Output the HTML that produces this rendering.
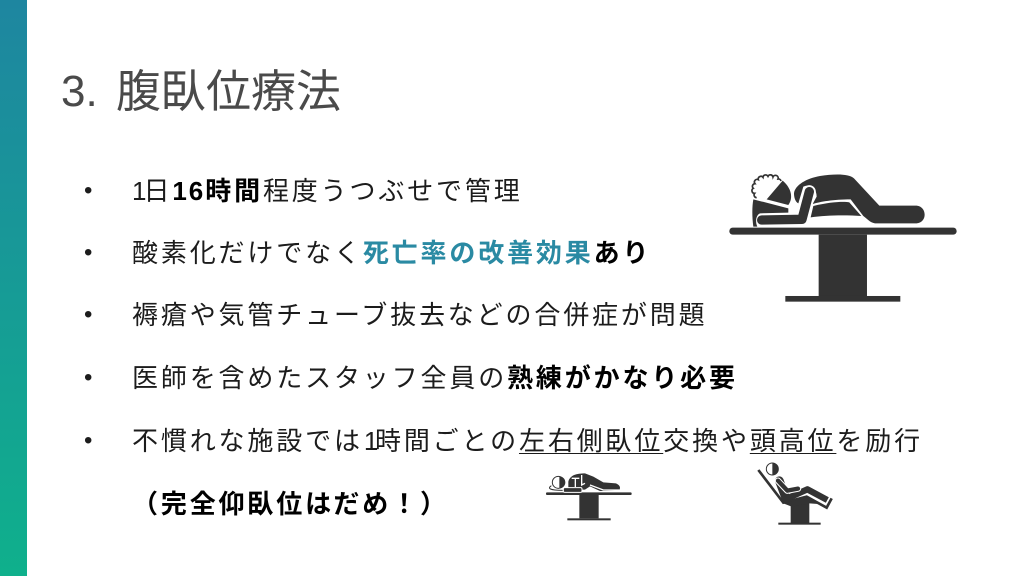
<!DOCTYPE html>
<html lang="ja"><head><meta charset="utf-8"><style>
html,body{margin:0;padding:0;background:#fff}
#p{position:relative;width:1024px;height:576px;overflow:hidden;background:#fff;font-family:"Liberation Sans","Noto Sans CJK JP",sans-serif;color:#1c1c1c}
#bar{position:absolute;left:0;top:0;width:27px;height:576px;background:linear-gradient(180deg,#1e86a0,#0fb08c)}
.t{position:absolute;left:132px;white-space:nowrap;font-size:26px;line-height:30px;letter-spacing:2.85px}
.b{position:absolute;left:84px;width:8px;font-size:24px;line-height:30px;letter-spacing:0}
b{font-weight:700;color:#000}
b.c{color:#2a8aa3}
u{text-underline-offset:3px;text-decoration-thickness:1px}
.n1{letter-spacing:-3px}
.n2{letter-spacing:2px}
.n3{letter-spacing:-3.3px;padding-left:1px}
#h{position:absolute;left:61px;top:63px;font-size:44px;line-height:58px;color:#4a4a4a;white-space:nowrap}
#h span{position:absolute;left:55px;top:0;font-size:45px}
svg{position:absolute;left:0;top:0}
</style></head><body><div id="p">
<div id="bar"></div>
<div id="h">3.<span>腹臥位療法</span></div>
<div class="b" style="top:176px">•</div><div class="t" style="top:176px"><span class="n1">1</span>日<b><span class="n2">16</span>時間</b>程度うつぶせで管理</div>
<div class="b" style="top:238px">•</div><div class="t" style="top:238px">酸素化だけでなく<b class="c">死亡率の改善効果</b><b>あり</b></div>
<div class="b" style="top:300px">•</div><div class="t" style="top:300px">褥瘡や気管チューブ抜去などの合併症が問題</div>
<div class="b" style="top:363px">•</div><div class="t" style="top:363px">医師を含めたスタッフ全員の<b>熟練がかなり必要</b></div>
<div class="b" style="top:426px">•</div><div class="t" style="top:426px">不慣れな施設では<span class="n3">1</span>時間ごとの<u>左右側臥位</u>交換や<u>頭高位</u>を励行</div>
<div class="t" style="top:489px"><b>（完全仰臥位はだめ！）</b></div>
<svg width="1024" height="576" viewBox="0 0 1024 576">
<g transform="translate(720,160) scale(.3333)" fill="#333">
<rect x="28" y="203" width="682" height="21" rx="10"/>
<rect x="296" y="224" width="145" height="185"/>
<rect x="196" y="408" width="345" height="17"/>
<path d="M222,100C225,75 260,55 300,48C340,42 385,40 402,55L478,137L590,137C622,140 622,188 590,190L465,190C450,188 440,175 430,168L392,118C340,118 300,125 278,132L290,110C290,85 270,70 250,80L235,130C225,125 222,110 222,100Z"/>
<path d="M280,138C330,126 370,124 388,127L424,168C380,165 320,165 272,172Z"/>
<path d="M268,95L246,178L125,180" fill="none" stroke="#fff" stroke-width="39" stroke-linecap="round" stroke-linejoin="round"/>
<path d="M268,95L246,178L125,180" fill="none" stroke="#333" stroke-width="28" stroke-linecap="round" stroke-linejoin="round"/>
<path d="M100,118L205,145L205,158L120,160C108,165 105,185 112,200L100,200C96,170 96,140 100,118Z"/>
<path d="M140,118L188,62C215,85 220,115 205,135Z"/>
<path d="M110,113a8,8 0 0 1 -6,-13a8,8 0 0 1 -4,-15a8,8 0 0 1 5,-14a8,8 0 0 1 10,-12a8,8 0 0 1 14,-7a8,8 0 0 1 15,-3a8,8 0 0 1 15,2a8,8 0 0 1 15,6a8,8 0 0 1 9,6" fill="none" stroke="#333" stroke-width="5"/>
</g>
<g transform="translate(540,465) scale(.3333)" fill="#333">
<rect x="18" y="82" width="257" height="8" rx="3"/>
<rect x="118" y="90" width="58" height="70"/>
<rect x="82" y="160" width="130" height="6"/>
<path d="M85,50C90,30 110,25 135,25L160,35L190,52L228,55C240,60 244,70 236,76L180,78L150,64L135,74L85,74Z"/>
<path d="M95,40H118M106,40V66M125,30V60L135,55M150,60L190,75H238" stroke="#fff" stroke-width="4" fill="none"/>
<rect x="70" y="68" width="56" height="14" rx="4" stroke="#fff" stroke-width="3"/>
<path d="M58,34A18,18 0 0 1 58,70Z"/>
<circle cx="55" cy="52" r="18" fill="none" stroke="#333" stroke-width="3"/>
<path d="M34,62C22,70 28,76 68,76" fill="none" stroke="#333" stroke-width="3"/>
</g>
<g transform="translate(750,460) scale(.3333)" fill="#333">
<rect x="122" y="125" width="56" height="65"/>
<rect x="85" y="188" width="127" height="6"/>
<path d="M25,30L100,128L170,110L230,143L245,115" fill="none" stroke="#333" stroke-width="8"/>
<path d="M100,130L170,112L205,132L178,130L125,140Z"/>
<path d="M88,62L108,115" stroke="#333" stroke-width="26" stroke-linecap="round"/>
<path d="M105,118L172,88L232,120" fill="none" stroke="#333" stroke-width="19" stroke-linejoin="round"/>
<path d="M84,62L112,92L144,86" fill="none" stroke="#fff" stroke-width="19" stroke-linecap="round" stroke-linejoin="round"/>
<path d="M84,62L112,92L144,86" fill="none" stroke="#333" stroke-width="13" stroke-linecap="round" stroke-linejoin="round"/>
<path d="M67,9A18,18 0 0 1 67,45Z"/>
<circle cx="67" cy="27" r="18" fill="none" stroke="#333" stroke-width="3"/>
</g>
</svg>
</div></body></html>
